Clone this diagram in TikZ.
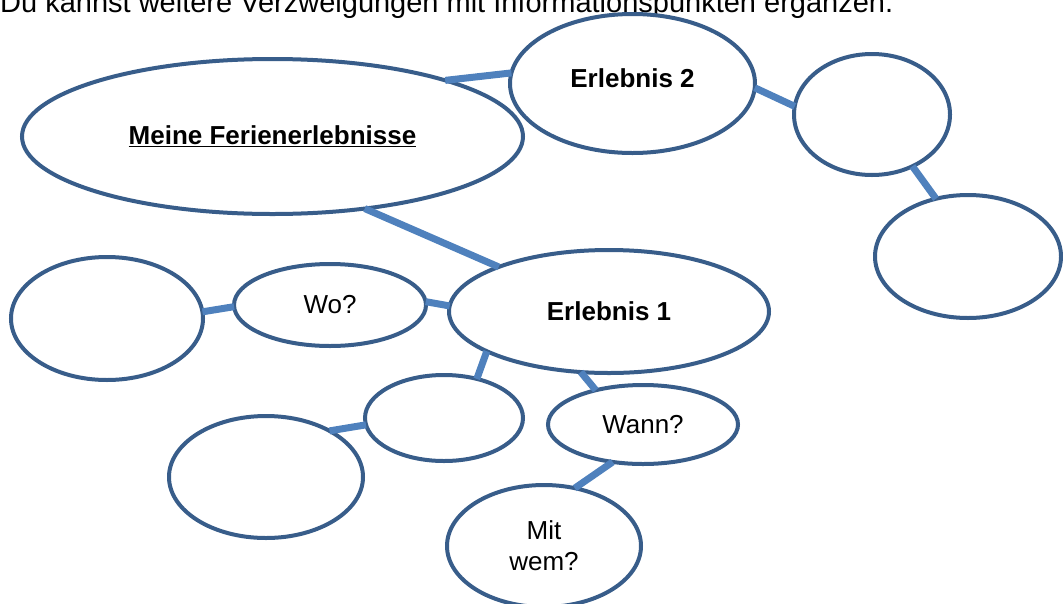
\documentclass[tikz,border=0pt]{standalone}
\usepackage{fontspec}
\setmainfont{Liberation Sans}
\usetikzlibrary{shapes.geometric}
\definecolor{bord}{RGB}{56,93,138}
\definecolor{conn}{RGB}{79,129,189}
\begin{document}
\begin{tikzpicture}[x=1pt,y=-1pt,
  bubble/.style={ellipse, draw=bord, line width=4pt, fill=white, inner sep=0pt, outer sep=0pt, align=center, font=\fontsize{26}{31}\selectfont},
  link/.style={draw=conn, line width=7pt}]
\useasboundingbox (0,0) rectangle (1063,603);
\clip (0,0) rectangle (1063,603);
\node[anchor=base west, font=\fontsize{29}{34}\selectfont, inner sep=0pt] (hint) at (0,12) {Du kannst weitere Verzweigungen mit Informationspunkten ergänzen.};
\node[bubble, minimum width=501pt, minimum height=155pt] (main) at (272.5,136.5) {\textbf{\underline{Meine Ferienerlebnisse}}};
\node[bubble, minimum width=245pt, minimum height=139pt] (e2) at (632.5,83.5) {\raisebox{10pt}{\textbf{Erlebnis 2}}};
\node[bubble, minimum width=156pt, minimum height=121pt] (rc) at (872,114.5) {};
\node[bubble, minimum width=186pt, minimum height=123pt] (rl) at (968,256.5) {};
\node[bubble, minimum width=320pt, minimum height=123pt] (e1) at (609,311.5) {\textbf{Erlebnis 1}};
\node[bubble, minimum width=192pt, minimum height=82pt] (wo) at (330,305) {Wo?};
\node[bubble, minimum width=192pt, minimum height=123pt] (left) at (107,318.5) {};
\node[bubble, minimum width=158pt, minimum height=86pt] (mid) at (444,418) {};
\node[bubble, minimum width=190pt, minimum height=79pt] (wann) at (643,424.5) {Wann?};
\node[bubble, minimum width=194pt, minimum height=122pt] (ll) at (266,477) {};
\node[bubble, minimum width=194pt, minimum height=122pt] (mw) at (544,546) {Mit\\wem?};
\draw[link] (main.18) -- (e2.175);
\draw[link] (e2.358) -- (rc.174);
\draw[link] (rc.308) -- (rl.119);
\draw[link] (main.322) -- (e1.158);
\draw[link] (wo.2) -- (e1.178);
\draw[link] (left.4) -- (wo.181);
\draw[link] (e1.198) -- (mid.50);
\draw[link] (e1.245) -- (wann.144);
\draw[link] (ll.36) -- (mid.185);
\draw[link] (wann.231) -- (mw.62);
\end{tikzpicture}
\end{document}
